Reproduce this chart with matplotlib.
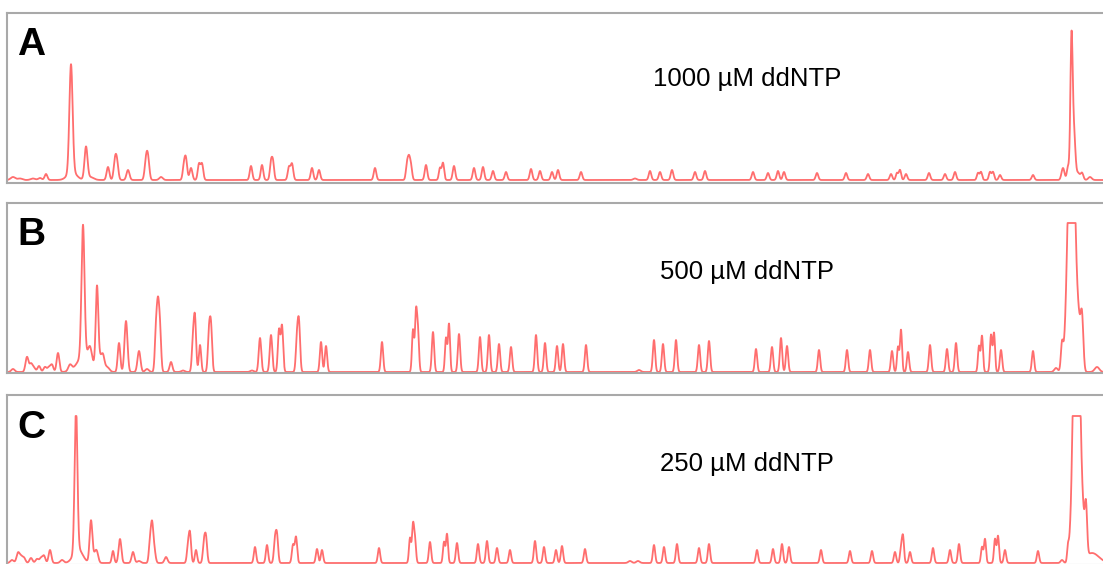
import numpy as np
import matplotlib
matplotlib.use("Agg")
import matplotlib.pyplot as plt

# ---------------- data ----------------
# x positions are in scan units (≈ horizontal pixel of the original), heights in signal units
panel_labels = ["A", "B", "C"]
conc_labels = ["1000 µM ddNTP", "500 µM ddNTP", "250 µM ddNTP"]

# Panel A peaks: position, height, width
peaks_A_pos = [13, 20, 33, 40, 46, 71, 72, 86, 90, 108, 115, 117, 128, 146, 148, 161,
               184, 186, 191, 199, 202, 251, 262, 271, 273, 289, 292, 312, 319,
               375, 407, 409, 411, 426, 440, 443, 454, 474, 483, 493, 506, 531, 540, 552, 558, 581, 635,
               650, 660, 672, 695, 705, 753, 768, 778, 784, 817, 846, 868, 891, 897, 900, 906,
               929, 945, 955, 978, 981, 990, 993, 1000, 1033, 1063, 1068, 1071.5, 1074, 1078, 1082, 1090]
peaks_A_hgt = [3, 1.5, 1.5, 2, 6, 108, 8, 32, 3, 13, 18, 16, 10, 18, 20, 3,
               14, 19, 12, 16, 16, 14, 15, 17, 17, 13, 16, 12, 10,
               12, 15, 19, 13, 15, 12, 17, 14, 12, 13, 9, 8, 11, 9, 8, 10, 8, 1.5,
               9, 8, 10, 8, 9, 8, 7, 9, 8, 7, 7, 6, 6, 7, 10, 6,
               7, 6, 8, 7, 8, 8, 8, 5, 5, 12, 13, 140, 45, 7, 7, 3]
peaks_A_wid = [2, 2, 2, 1.5, 1.2, 1.4, 4, 1.3, 3, 1.2, 1.2, 1.2, 1.3, 1.2, 1.2, 1.5,
               1.1, 1.1, 1.2, 1.1, 1.1, 1.1, 1.1, 1.0, 1.0, 1.1, 1.1, 1.1, 1.1,
               1.1, 1.0, 1.0, 1.0, 1.1, 1.0, 1.0, 1.1, 1.1, 1.1, 1.1, 1.1, 1.1, 1.1, 1.1, 1.1, 1.1, 1.5,
               1.1, 1.1, 1.1, 1.1, 1.1, 1.1, 1.1, 1.1, 1.1, 1.1, 1.1, 1.1, 1.1, 1.0, 1.0, 1.1,
               1.1, 1.1, 1.1, 1.0, 1.0, 1.0, 1.0, 1.1, 1.1, 1.3, 1.0, 1.0, 1.2, 1.5, 1.2, 1.5]

# Panel B peaks
peaks_B_pos = [13, 27, 31, 34, 39, 45, 49, 52, 58, 70, 83, 85, 90, 97, 100, 103, 107,
               119, 126, 139, 147, 156, 158, 160, 171, 183, 193, 195, 200, 209, 211, 252,
               260, 271, 279, 282, 297, 299, 321, 326,
               382, 413, 416, 418, 433, 446, 449, 459, 480, 489, 499, 511, 536, 545, 557, 563, 586, 639,
               654, 663, 676, 699, 709, 756, 772, 781, 787, 819, 847, 870, 892, 898, 901, 908,
               930, 947, 956, 979, 982, 991, 994, 1001, 1033, 1056, 1062,
               1071.5, 1079, 1082, 1097]
peaks_B_hgt = [3, 15, 8, 4, 6, 5, 5, 7, 19, 6, 130, 18, 12, 80, 12, 14, 5,
               29, 51, 21, 3, 40, 58, 40, 10, 1.5, 30, 51, 27, 38, 43, 1.5,
               34, 37, 42, 46, 33, 46, 30, 26,
               30, 42, 58, 38, 40, 34, 48, 38, 35, 37, 28, 25, 37, 29, 26, 28, 27, 2,
               32, 28, 32, 27, 31, 23, 25, 34, 26, 22, 22, 22, 21, 25, 42, 20,
               27, 23, 29, 26, 36, 37, 39, 22, 21, 4, 25,
               294, 30, 52, 5]
peaks_B_wid = [1.5, 1.3, 1.3, 1.3, 1.3, 1.3, 1.3, 1.2, 1.2, 1.5, 1.3, 6, 1.5, 1.1, 1.5, 1.3, 2,
               1.1, 1.3, 1.3, 1.5, 1.0, 1.0, 1.0, 1.2, 1.5, 1.0, 1.0, 1.0, 1.0, 1.0, 1.5,
               1.1, 1.1, 1.0, 1.0, 1.0, 1.0, 1.0, 1.0,
               1.0, 0.9, 0.9, 0.9, 1.0, 0.9, 0.9, 1.0, 1.0, 1.0, 1.0, 1.0, 1.0, 1.0, 1.0, 1.0, 1.0, 1.5,
               1.0, 1.0, 1.0, 1.0, 1.0, 1.0, 1.0, 1.0, 1.0, 1.0, 1.0, 1.0, 1.0, 0.9, 0.9, 1.0,
               1.0, 1.0, 1.0, 0.9, 0.9, 0.9, 0.9, 1.0, 1.0, 1.5, 1.0,
               3.0, 1.5, 1.2, 2]

# Panel C peaks
peaks_C_pos = [12, 18, 21, 24, 31, 37, 41, 44, 50, 62, 76, 78, 91, 95, 97, 113, 120, 133, 139,
               150, 152, 154, 166, 188, 190, 196, 204, 206,
               255, 267, 275, 277, 293, 296, 317, 322,
               379, 410, 413, 415, 430, 444, 447, 457, 478, 487, 497, 510, 535, 544, 556, 562, 585, 630, 638,
               654, 664, 677, 699, 709, 757, 773, 782, 789, 821, 850, 872, 895, 901, 903, 910,
               933, 950, 959, 982, 985, 995, 998, 1005, 1038, 1062, 1068, 1070,
               1076.5, 1083, 1086, 1092]
peaks_C_hgt = [3, 10, 6, 5, 5, 4, 5, 7, 13, 3, 145, 14, 42, 8, 8, 12, 24, 11, 2,
               20, 33, 15, 6, 16, 28, 13, 20, 24,
               16, 18, 22, 26, 18, 26, 14, 13,
               15, 25, 37, 22, 21, 21, 29, 20, 19, 22, 15, 13, 22, 16, 13, 17, 14, 2, 2,
               18, 16, 19, 15, 19, 13, 14, 19, 16, 13, 12, 12, 11, 15, 26, 11,
               15, 13, 19, 16, 24, 24, 27, 13, 12, 3, 15, 6,
               392, 30, 48, 10]
peaks_C_wid = [1.5, 1.3, 1.3, 1.3, 1.3, 1.3, 1.3, 1.2, 1.2, 1.5, 1.2, 4, 1.2, 1.5, 1.3, 1.0, 1.2, 1.2, 1.5,
               1.0, 1.0, 1.2, 1.3, 1.0, 1.0, 1.0, 1.0, 1.0,
               1.0, 1.0, 1.0, 1.0, 1.0, 1.0, 1.0, 1.0,
               1.0, 0.9, 0.9, 0.9, 1.0, 0.9, 0.9, 1.0, 1.0, 1.0, 1.0, 1.0, 1.0, 1.0, 1.0, 1.0, 1.0, 1.5, 1.5,
               1.0, 1.0, 1.0, 1.0, 1.0, 1.0, 1.0, 1.0, 1.0, 1.0, 1.0, 1.0, 1.0, 0.9, 0.9, 1.0,
               1.0, 1.0, 1.0, 0.9, 0.9, 0.9, 0.9, 1.0, 1.0, 1.2, 0.8, 0.8,
               2.5, 1.5, 1.0, 6]

# detector saturation level for each panel (flat-topped peaks)
saturation = [200, 149, 147]

# ---------------- figure ----------------
W, H = 1103, 564
fig = plt.figure(figsize=(W / 100, H / 100), dpi=100)
fig.patch.set_facecolor("white")

font = "Liberation Sans"
panel_boxes = [(13, 183, -3, 167), (203, 373, -1, 169), (395, 565, -2, 168)]  # top px, bottom px, ylim
label_baselines = [55, 245, 438]
conc_baselines = [86, 279, 471]

x = np.arange(0, 1112, 0.2)
peak_sets = [(peaks_A_pos, peaks_A_hgt, peaks_A_wid),
             (peaks_B_pos, peaks_B_hgt, peaks_B_wid),
             (peaks_C_pos, peaks_C_hgt, peaks_C_wid)]

left_px, right_px = 7, 1112
for i, (pos, hgt, wid) in enumerate(peak_sets):
    top_px, bot_px, y0, y1 = panel_boxes[i]
    ax = fig.add_axes([left_px / W, 1 - bot_px / H, (right_px - left_px) / W, (bot_px - top_px) / H])
    sig = np.zeros_like(x)
    for p, h, w in zip(pos, hgt, wid):
        w = w * 1.15
        sig += h * np.exp(-0.5 * ((x - p) / w) ** 2)
    sig = np.minimum(sig, saturation[i])
    ax.plot(x, sig, color="#ff3030", lw=1.3, alpha=0.7)
    ax.set_xlim(left_px, right_px)
    ax.set_ylim(y0, y1)
    ax.set_xticks([])
    ax.set_yticks([])
    for s in ax.spines.values():
        s.set_color("#a9a9a9")
        s.set_linewidth(1.5)

    fig.text(17 / W, 1 - label_baselines[i] / H, panel_labels[i], fontsize=28, fontweight="bold",
             family=font, ha="left", va="baseline", color="black")
    fig.text(747 / W, 1 - conc_baselines[i] / H, conc_labels[i], fontsize=18.5,
             family=font, ha="center", va="baseline", color="black")

fig.savefig("out.png", dpi=100, facecolor="white")
